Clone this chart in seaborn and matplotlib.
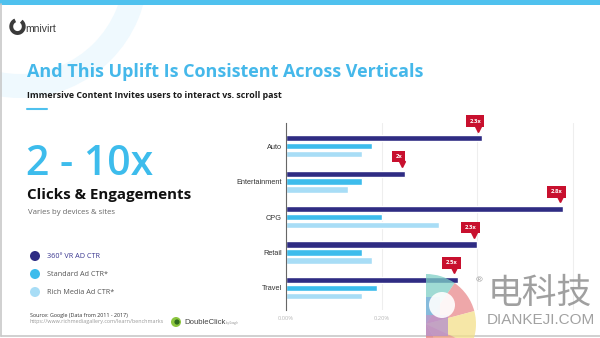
import matplotlib
matplotlib.use("Agg")
import matplotlib.pyplot as plt
import matplotlib.patches as mpatches
import matplotlib.transforms as mtransforms
from matplotlib.ticker import FixedLocator, FixedFormatter
import seaborn as sns
import pandas as pd

# ---- data ----
categories = ["Auto", "Entertainment", "CPG", "Retail", "Travel"]
vr_ctr = [0.41, 0.25, 0.58, 0.40, 0.36]
standard_ctr = [0.18, 0.16, 0.20, 0.16, 0.19]
rich_ctr = [0.16, 0.13, 0.32, 0.18, 0.16]
uplift_labels = ["2.3x", "2x", "2.8x", "2.3x", "2.5x"]
series_names = ["360° VR AD CTR", "Standard Ad CTR*", "Rich Media Ad CTR*"]
x_ticks = [0.0, 0.2, 0.4, 0.6]
x_tick_labels = ["0.00%", "0.20%", "", ""]   # 0.40% / 0.60% hidden behind watermark in the original

colors = ["#2F2C83", "#3DBCEC", "#A8DDF6"]

df = pd.DataFrame({
    "category": categories * 3,
    "series": [series_names[0]] * 5 + [series_names[1]] * 5 + [series_names[2]] * 5,
    "value": vr_ctr + standard_ctr + rich_ctr,
})

sns.set_theme(style="white")
plt.rcParams["font.family"] = ["Open Sans", "DejaVu Sans"]

W, H = 600, 338
fig = plt.figure(figsize=(6, 3.38), dpi=100)
fig.patch.set_facecolor("white")

# background axes in pixel coordinates
bg = fig.add_axes([0, 0, 1, 1])
bg.set_xlim(0, W)
bg.set_ylim(H, 0)
bg.axis("off")

# faint decorative ring
bg.add_patch(mpatches.Wedge((20, -30), 128, 0, 360, width=24, color="#EFF9FE", lw=0))
# top bar
bg.add_patch(mpatches.Rectangle((0, 0), W, 4.5, color="#4FC1EE", lw=0))
# slide border
bg.plot([1, 1], [4, 336], color="#C8C8C8", lw=1.2)
bg.plot([1, W], [336, 336], color="#C8C8C8", lw=1.2)

# logo
bg.add_patch(mpatches.Arc((17.5, 26.5), 12.5, 13, theta1=-55, theta2=250, lw=2.8, color="#3A3A3A"))
bg.text(25, 28.5, "mnivirt", fontsize=7.5, color="#3A3A3A", va="center", ha="left",
        family="Liberation Sans")

# title and subtitle
bg.text(27, 72, "And This Uplift Is Consistent Across Verticals", fontsize=13.0, fontweight="bold",
        color="#45B8EA", va="center", ha="left")
bg.text(27, 96, "Immersive Content Invites users to interact vs. scroll past", fontsize=6.4,
        fontweight="bold", color="#1A1A1A", va="center", ha="left")
bg.plot([27, 47], [109, 109], color="#4FC1EE", lw=1.5)

# big numbers
bg.text(26, 164, "2 - 10x", fontsize=29.5, fontweight="semibold", color="#3DBCEC", va="center",
        ha="left")
bg.text(27, 195, "Clicks & Engagements", fontsize=10.9, fontweight="bold", color="#111111",
        va="center", ha="left")
bg.text(28, 212, "Varies by devices & sites", fontsize=5.6, color="#666666", va="center", ha="left")

# legend
for i, (name, col) in enumerate(zip(series_names, colors)):
    y = 256 + i * 18
    bg.add_patch(mpatches.Circle((35, y), 5, color=col, lw=0))
    bg.text(47, y, name, fontsize=5.2, color=("#3A3790" if i == 0 else "#555555"),
            va="center", ha="left")

# source
bg.text(30, 315.5, "Source: Google (Data from 2011 - 2017)", fontsize=3.9, color="#333333",
        va="center", ha="left")
bg.text(30, 322, "https://www.richmediagallery.com/learn/benchmarks", fontsize=3.9, color="#9A9A9A",
        va="center", ha="left")
bg.add_patch(mpatches.Circle((176, 322), 5, color="#8CC63F", lw=0))
bg.add_patch(mpatches.Circle((177, 322), 2.6, color="#2F6B1E", lw=0))
bg.text(184, 322, "DoubleClick", fontsize=5.6, color="#444444", va="center", ha="left",
        family="Liberation Sans")
bg.text(226, 323, "by Google", fontsize=1.8, color="#777777", va="center", ha="left")

# ---- chart ----
ax = fig.add_axes([286 / W, 1 - 310 / H, 310 / W, (310 - 123) / H])
sns.barplot(data=df, y="category", x="value", hue="series", order=categories,
            hue_order=series_names, palette=colors, orient="h", width=0.66, gap=0.17,
            saturation=1, legend=False, ax=ax)
ax.set_xlim(0, 0.649)
ax.set_ylim(4.62, -0.65)
ax.set_xlabel("")
ax.set_ylabel("")
ax.xaxis.set_major_locator(FixedLocator(x_ticks))
ax.xaxis.set_major_formatter(FixedFormatter(x_tick_labels))
ax.grid(axis="x", color="#EEEEEE", lw=0.8)
ax.set_axisbelow(True)
for s in ["top", "right", "bottom"]:
    ax.spines[s].set_visible(False)
ax.spines["left"].set_color("#666666")
ax.spines["left"].set_linewidth(0.8)
ax.tick_params(axis="y", length=0, labelsize=5.3, labelcolor="#333333", pad=3)
ax.tick_params(axis="x", length=0, labelsize=4.2, labelcolor="#BBBBBB", pad=4)
for lab in ax.get_yticklabels():
    lab.set_family("Liberation Sans")
ax.patch.set_alpha(0)

# uplift call-outs above the VR bars
for bar, lab in zip(ax.containers[0], uplift_labels):
    x_end = bar.get_x() + bar.get_width()
    y_top = bar.get_y()
    tr_box = mtransforms.offset_copy(ax.transData, fig=fig, x=-6.5, y=14, units="dots")
    ax.text(x_end, y_top, lab, transform=tr_box, fontsize=4.2, fontweight="bold", color="white",
            ha="center", va="center",
            bbox=dict(boxstyle="square,pad=0.55", fc="#C8102E", ec="none"), zorder=5)
    tr_tri = mtransforms.offset_copy(ax.transData, fig=fig, x=-3.5, y=6.5, units="dots")
    ax.plot([x_end], [y_top], marker="v", markersize=4, color="#C8102E", transform=tr_tri,
            zorder=5, clip_on=False)

# ---- watermark ----
wm = fig.add_axes([0, 0, 1, 1])
wm.set_xlim(0, W)
wm.set_ylim(H, 0)
wm.axis("off")
wm_parts = [((-90, -55), "#7FD0C6"), ((-55, -15), "#E98A8C"), ((-15, 25), "#F3E08A"),
            ((25, 60), "#EE9A7E"), ((60, 90), "#E47E7E")]
cx, cy, r = 426, 324, 50
for (a1, a2), c in wm_parts:
    wm.add_patch(mpatches.Wedge((cx, cy), r, a1, a2, color=c, alpha=0.75, lw=0))
wm.add_patch(mpatches.Rectangle((cx, 297), 14, 18, color="#80B4DF", alpha=0.8, lw=0))
wm.add_patch(mpatches.Rectangle((cx, 315), 22, 21, color="#B792CB", alpha=0.8, lw=0))
wm.add_patch(mpatches.Circle((cx + 16, 305), 13, color="white", alpha=0.9, lw=0))
wm.text(479, 281, "®", fontsize=6, color="#999999", ha="center", va="center")
wm.text(540, 293, "电科技", fontsize=25, color="#808080", alpha=0.75, ha="center", va="center",
        family=["Noto Sans CJK SC", "DejaVu Sans"], fontweight="light")
wm.text(541, 320, "DIANKEJI.COM", fontsize=11, color="#8A8A8A", alpha=0.8, ha="center",
        va="center", family="Liberation Sans")

fig.savefig("out.png", dpi=100, facecolor="white")
